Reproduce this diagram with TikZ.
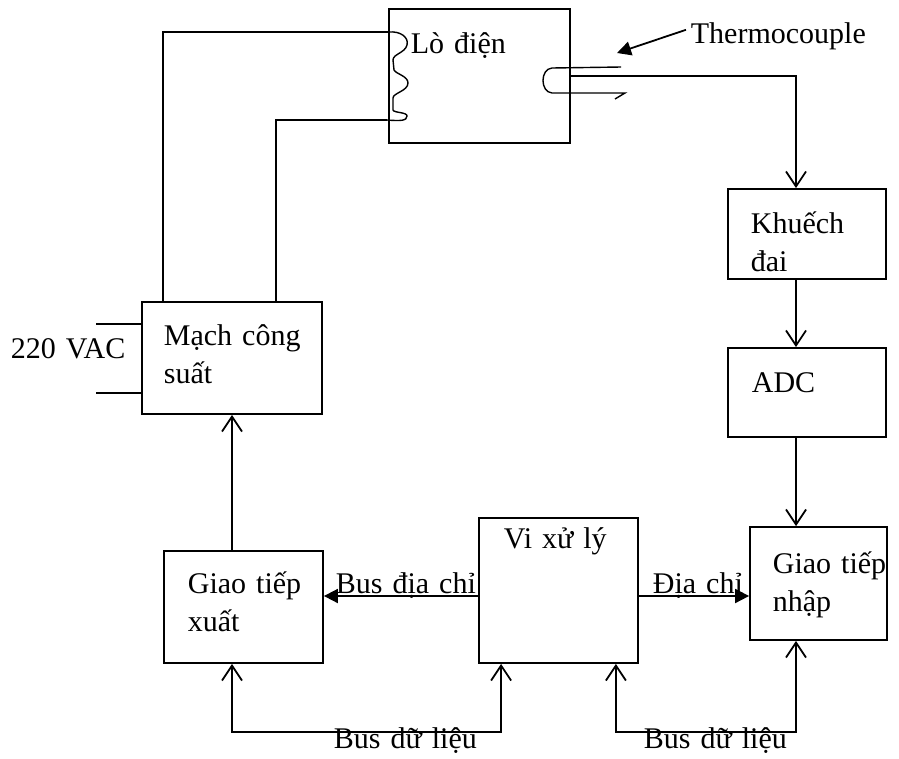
\documentclass[tikz,border=0pt]{standalone}
\usepackage{fontspec}
\setmainfont{Liberation Serif}
\usetikzlibrary{positioning,arrows.meta}
\tikzset{
  blk/.style={draw, line width=1.8pt, inner sep=0pt},
  txt/.style={inner sep=0pt, text width=180pt, align=left, anchor=base west, font=\fontsize{30}{38}\selectfont},
  oarr/.style={-{Straight Barb[length=15pt,width=20pt]}},
  barbs/.style={{Straight Barb[length=15pt,width=20pt]}-{Straight Barb[length=15pt,width=20pt]}},
  farr/.style={-{Triangle[length=14pt,width=14pt]}},
}
\begin{document}
\begin{tikzpicture}[x=1pt,y=-1pt,line width=1.8pt]
\useasboundingbox (0,0) rectangle (899,758);
% blocks
\node[blk, minimum width=181pt, minimum height=134pt] (lo) at (479.5,76) {};
\node[blk, minimum width=158pt, minimum height=90pt] (kd) at (807,234) {};
\node[blk, minimum width=158pt, minimum height=89pt] (adc) at (807,392.5) {};
\node[blk, minimum width=137pt, minimum height=113pt] (nhap) at (818.5,583.5) {};
\node[blk, minimum width=159pt, minimum height=145pt] (vxl) at (558.5,590.5) {};
\node[blk, minimum width=159pt, minimum height=112pt] (xuat) at (243.5,607) {};
\node[blk, minimum width=180pt, minimum height=112pt] (mach) at (232,358) {};
% texts
\node[txt] (lo-t) at (410,53) {Lò điện};
\node[txt] (kd-t) at (750,233) {Khuếch\\đai};
\node[txt] (adc-t) at (751,392) {ADC};
\node[txt] (nhap-t) at (772,573) {Giao tiếp\\nhập};
\node[txt] (vxl-t) at (503,548) {Vi xử lý};
\node[txt] (xuat-t) at (187,593) {Giao tiếp\\xuất};
\node[txt] (mach-t) at (163,345) {Mạch công\\suất};
\node[txt] (vac-t) at (10,358) {220 VAC};
\node[txt] (tc-t) at (690,43) {Thermocouple};
\node[txt] (bdc-t) at (335,593) {Bus địa chỉ};
\node[txt] (dc-t) at (652,593) {Địa chỉ};
\node[txt] (bdl1-t) at (333,748) {Bus dữ liệu};
\node[txt] (bdl2-t) at (643,748) {Bus dữ liệu};
% heating coil and probe
\coordinate (coilA) at (389,32);
\coordinate (coilB) at (387,120);
\draw[line width=1.4pt] (coilA) .. controls (400,31) and (409,37) .. (407,45)
  .. controls (405,53) and (393,54) .. (393,60) -- (394,70)
  .. controls (396,74) and (408,76) .. (408,83)
  .. controls (408,91) and (393,93) .. (393,98) -- (393,110)
  .. controls (394,113) and (407,112) .. (407,116)
  .. controls (407,121) and (400,121) .. (coilB);
\draw[line width=1.4pt] (621,67) -- (552,68) .. controls (540,69) and (540,92) .. (552,93) -- (625,93) -- (615,99);
\coordinate (probe) at (617,53);
\coordinate (col) at (796,0);
\coordinate (bus) at (0,596);
\coordinate (acA) at (96,324);
\coordinate (acB) at (96,393);
% wiring
\draw ([xshift=22pt]mach.north west) |- (coilA);
\draw ([xshift=135pt]mach.north west) |- (coilB);
\draw (acA) -- (acA -| mach.west);
\draw (acB) -- (acB -| mach.west);
\draw[farr] ([shift={(-4,-6)}]tc-t.west) -- (probe);
\draw[oarr] (lo.east) -| (kd.north -| col);
\draw[oarr] (kd.south -| col) -- (adc.north -| col);
\draw[oarr] (adc.south -| col) -- (nhap.north -| col);
\draw[oarr] (xuat.north -| mach.south) -- (mach.south);
\draw[farr] (vxl.west |- bus) -- (xuat.east |- bus);
\draw[farr] (vxl.east |- bus) -- (nhap.west |- bus);
\draw[barbs] (xuat.south -| mach.south) -- ++(0,68) -| ([xshift=23pt]vxl.south west);
\draw[barbs] ([xshift=-23pt]vxl.south east) -- ++(0,68) -| (nhap.south -| col);
\end{tikzpicture}
\end{document}
